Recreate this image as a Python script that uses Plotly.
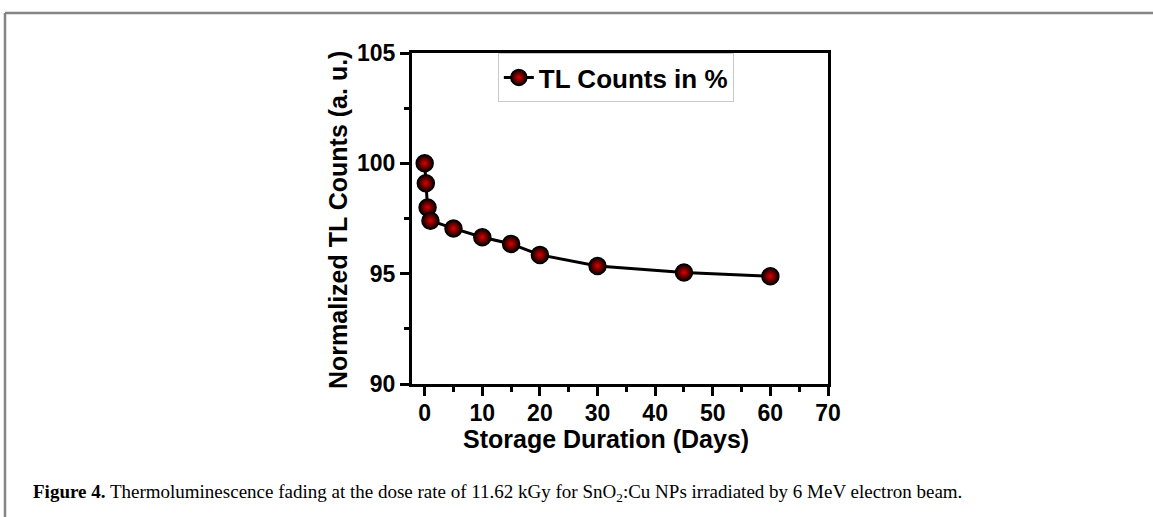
import plotly.graph_objects as go

# Data
days = [0, 0.2, 0.5, 1, 5, 10, 15, 20, 30, 45, 60]
tl_counts = [100, 99.1, 98.0, 97.4, 97.05, 96.65, 96.35, 95.85, 95.35, 95.05, 94.88]
series_name = "TL Counts in %"
x_ticks = [0, 10, 20, 30, 40, 50, 60, 70]
y_ticks = [90, 95, 100, 105]

W, H = 1153, 517
ML, MR, MT, MB = 412, 325, 53, 133
pw = W - ML - MR
ph = H - MT - MB

font_main = "Liberation Sans, Arial, sans-serif"

fig = go.Figure()
fig.add_trace(go.Scatter(
    x=days, y=tl_counts, mode="lines+markers", name=series_name,
    line=dict(color="black", width=3),
    marker=dict(size=17, color="#000000", symbol="circle",
                gradient=dict(type="radial", color="#e00000"),
                line=dict(color="black", width=1.5)),
    showlegend=True,
))

axis_common = dict(
    showline=True, linecolor="black", linewidth=3, mirror=True,
    ticks="outside", ticklen=9, tickwidth=2.5, tickcolor="black",
    showgrid=False, zeroline=False,
    tickfont=dict(family=font_main, size=23, color="black", weight="bold"),
)

fig.update_xaxes(
    range=[-2.2, 70], tickvals=x_ticks,
    ticktext=["<b>%d</b>" % v for v in x_ticks],
    ticklabelstandoff=-3,
    minor=dict(ticks="outside", ticklen=5, tickwidth=2.5, dtick=5, tick0=0, tickcolor="black"),
    **axis_common,
)
fig.update_yaxes(
    range=[90, 105], tickvals=y_ticks,
    ticktext=["<b>%d</b>" % v for v in y_ticks],
    minor=dict(ticks="outside", ticklen=5, tickwidth=2.5, dtick=2.5, tick0=90, tickcolor="black"),
    **axis_common,
)

def px_to_paper_x(px):
    return (px - ML) / pw

def px_to_paper_y(py):
    return (H - MB - py) / ph

# axis titles placed as annotations at the reference positions
fig.add_annotation(text="<b>Storage Duration (Days)</b>", xref="paper", yref="paper",
                   x=px_to_paper_x(606), y=px_to_paper_y(439),
                   xanchor="center", yanchor="middle", showarrow=False,
                   font=dict(family=font_main, size=25, color="black"))
fig.add_annotation(text="<b>Normalized TL Counts (a. u.)</b>", xref="paper", yref="paper",
                   x=px_to_paper_x(338), y=px_to_paper_y(220), textangle=-90,
                   xanchor="center", yanchor="middle", showarrow=False,
                   font=dict(family=font_main, size=25, color="black"))

# frame border (gray)
fig.add_shape(type="line", xref="paper", yref="paper",
              x0=px_to_paper_x(5), x1=px_to_paper_x(W + 5),
              y0=px_to_paper_y(13), y1=px_to_paper_y(13),
              line=dict(color="#858585", width=2.5))
fig.add_shape(type="line", xref="paper", yref="paper",
              x0=px_to_paper_x(5), x1=px_to_paper_x(5),
              y0=px_to_paper_y(13), y1=px_to_paper_y(H + 5),
              line=dict(color="#858585", width=2.5))

caption = ("<b>Figure 4.</b> Thermoluminescence fading at the dose rate of 11.62 kGy "
           "for SnO<sub>2</sub>:Cu NPs irradiated by 6 MeV electron beam.")
fig.add_annotation(text=caption, xref="paper", yref="paper",
                   x=px_to_paper_x(31), y=px_to_paper_y(493),
                   xanchor="left", yanchor="middle", showarrow=False,
                   font=dict(family="Liberation Serif, Times New Roman, serif", size=19, color="black"))

fig.update_layout(
    width=W, height=H,
    margin=dict(l=ML, r=MR, t=MT, b=MB),
    paper_bgcolor="white", plot_bgcolor="white",
    showlegend=True,
    legend=dict(x=0.49, y=1.0, xanchor="center", yanchor="top",
                bgcolor="rgba(255,255,255,0)", bordercolor="#c8c8c8", borderwidth=1,
                font=dict(family=font_main, size=26, color="black", weight="bold"),
                itemwidth=30, tracegroupgap=0),
)

fig.write_html("out.html", config={"displayModeBar": False},
               post_script="document.body.style.margin='0';document.body.style.overflow='hidden';")
